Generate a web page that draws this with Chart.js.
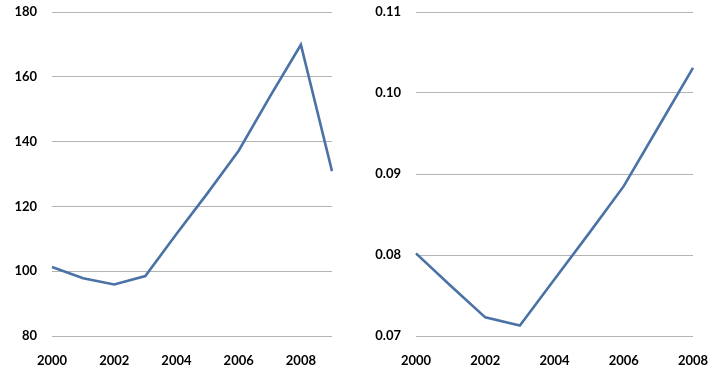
<!DOCTYPE html>
<html>
<head>
<meta charset="utf-8">
<script src="https://cdn.jsdelivr.net/npm/chart.js@4/dist/chart.umd.min.js"></script>
<style>
  html, body { margin: 0; padding: 0; background: #ffffff; }
  #wrap { display: flex; width: 722px; height: 374px; }
  canvas { display: block; }
</style>
</head>
<body>
<div id="wrap">
  <canvas id="left" width="361" height="374"></canvas>
  <canvas id="right" width="361" height="374"></canvas>
</div>
<script>
// ---- Data ----
const leftYears = ['2000','2001','2002','2003','2004','2005','2006','2007','2008','2009'];
const leftValues = [101.3, 97.8, 95.9, 98.5, 111.5, 124.1, 137.2, 153.8, 169.9, 130.9];
const leftTicks = [80, 100, 120, 140, 160, 180];

const rightYears = ['2000','2001','2002','2003','2004','2005','2006','2007','2008'];
const rightValues = [0.0802, 0.0762, 0.0723, 0.0713, 0.0770, 0.0827, 0.0885, 0.0958, 0.1031];
const rightTicks = [0.07, 0.08, 0.09, 0.10, 0.11];

// ---- Styling ----
const lineColor = '#4a72a6';
const gridColor = '#b4b4b4';
const fontSpec = { family: 'Lato, "Open Sans", sans-serif', size: 13, weight: 'bold' };

function makeChart(id, labels, values, yTicks, yWidth, decimals, rightPad) {
  const ctx = document.getElementById(id);
  return new Chart(ctx, {
    type: 'line',
    data: {
      labels: labels,
      datasets: [{
        data: values,
        borderColor: lineColor,
        borderWidth: 2.6,
        pointRadius: 0,
        tension: 0,
        fill: false
      }]
    },
    options: {
      responsive: false,
      animation: false,
      devicePixelRatio: 1,
      layout: { padding: { top: 12, right: rightPad, bottom: 0, left: 0 } },
      plugins: { legend: { display: false }, tooltip: { enabled: false }, title: { display: false } },
      scales: {
        x: {
          type: 'category',
          offset: false,
          grid: { display: false, drawTicks: false },
          border: { display: false },
          ticks: {
            autoSkip: false,
            maxRotation: 0,
            padding: 17,
            color: '#000000',
            font: fontSpec,
            callback: function (v, i) { return (i % 2 === 0) ? labels[i] : ''; }
          },
          afterFit: function (scale) { scale.height = 38; scale.paddingLeft = 0; scale.paddingRight = 0; }
        },
        y: {
          min: yTicks[0],
          max: yTicks[yTicks.length - 1],
          afterBuildTicks: function (scale) { scale.ticks = yTicks.map(v => ({ value: v })); },
          grid: { color: gridColor, lineWidth: 1, drawTicks: false },
          border: { display: false },
          ticks: {
            padding: 15,
            color: '#000000',
            font: fontSpec,
            callback: function (v) { return decimals ? Number(v).toFixed(decimals) : String(v); }
          },
          afterFit: function (scale) { scale.width = yWidth; scale.paddingTop = 0; scale.paddingBottom = 0; }
        }
      }
    }
  });
}

makeChart('left', leftYears, leftValues, leftTicks, 52, 0, 29);
makeChart('right', rightYears, rightValues, rightTicks, 55, 2, 29);
</script>
</body>
</html>
